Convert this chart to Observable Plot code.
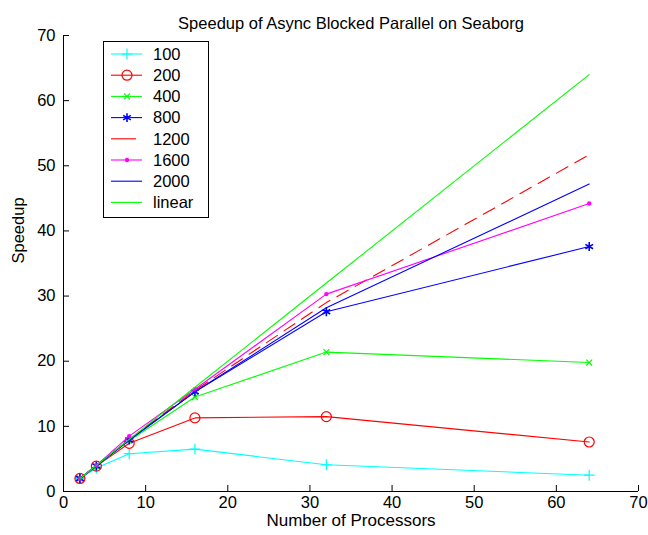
<!DOCTYPE html>
<html><head><meta charset="utf-8">
<script src="https://cdn.jsdelivr.net/npm/d3@7"></script>
<script src="https://cdn.jsdelivr.net/npm/@observablehq/plot@0.6"></script>
<style>
body{margin:0;background:#fff;}
#wrap{position:relative;width:648px;height:535px;font-family:Arial,"Liberation Sans",sans-serif;}
#wrap svg.legend{position:absolute;left:0;top:0;pointer-events:none;}
</style></head><body><div id="wrap"></div>
<script>
// ---- data ----
const processors = [2, 4, 8, 16, 32, 64];
const seriesNames = ["100", "200", "400", "800", "1200", "1600", "2000", "linear"];
const s100    = [2.0, 3.6, 5.8, 6.5, 4.1, 2.5];
const s200    = [2.0, 3.9, 7.4, 11.3, 11.5, 7.6];
const s400    = [2.0, 3.9, 7.8, 14.5, 21.4, 19.8];
const s800    = [2.0, 3.9, 7.9, 15.3, 27.6, 37.6];
const s1200   = [2.0, 4.0, 8.0, 15.5, 29.0, 51.7];
const s1600   = [2.0, 4.0, 8.5, 15.7, 30.3, 44.2];
const s2000   = [2.0, 4.0, 7.9, 15.3, 28.2, 47.2];
const sLinear = [2, 4, 8, 16, 32, 64];
const seriesValues = [s100, s200, s400, s800, s1200, s1600, s2000, sLinear];
const xTicks = [0, 10, 20, 30, 40, 50, 60, 70];
const yTicks = [0, 10, 20, 30, 40, 50, 60, 70];
const titleText = "Speedup of Async Blocked Parallel on Seaborg";
const xLabel = "Number of Processors";
const yLabel = "Speedup";

// ---- styles ----
const colors  = ["#00ffff", "#ff0000", "#00ff00", "#0000ff", "#ff0000", "#ff00ff", "#0000ff", "#00ff00"];
const symbols = ["plus", "circle", "times", "asterisk", null, "dot", null, null];
const dashes  = [null, null, null, null, "13,8", null, null, null];
const FONT = 16.5;

const rows = seriesNames.flatMap((name, i) =>
  processors.map((p, j) => ({series: name, idx: i, x: p, y: seriesValues[i][j]})));

const marks = [];
marks.push(Plot.ruleY([0], {stroke: "black"}));
marks.push(Plot.ruleX([0], {stroke: "black"}));
seriesNames.forEach((name, i) => {
  const d = rows.filter(r => r.idx === i);
  marks.push(Plot.line(d, {x: "x", y: "y", stroke: colors[i], strokeWidth: 1.1,
    strokeDasharray: dashes[i] ?? undefined}));
  const sym = symbols[i];
  if (sym === "plus") marks.push(Plot.dot(d, {x: "x", y: "y", symbol: "plus", r: 3.6, stroke: colors[i], strokeWidth: 1.2}));
  if (sym === "circle") marks.push(Plot.dot(d, {x: "x", y: "y", symbol: "circle", r: 5, stroke: colors[i], fill: "none", strokeWidth: 1.2}));
  if (sym === "times") marks.push(Plot.dot(d, {x: "x", y: "y", symbol: "times", r: 2.8, stroke: colors[i], strokeWidth: 1.2}));
  if (sym === "asterisk") marks.push(Plot.dot(d, {x: "x", y: "y", symbol: "asterisk", r: 4.2, stroke: colors[i], strokeWidth: 1.6}));
  if (sym === "dot") marks.push(Plot.dot(d, {x: "x", y: "y", r: 2.2, fill: colors[i], stroke: "none"}));
});
marks.push(Plot.axisX({ticks: xTicks, tickSize: -6, tickPadding: 11, label: null, fontSize: FONT}));
marks.push(Plot.axisY({ticks: yTicks, tickSize: -6, tickPadding: 14, label: null, fontSize: FONT}));
marks.push(Plot.text([titleText], {text: d => d, frameAnchor: "top", dy: -18, fontSize: 16.5}));
marks.push(Plot.text([xLabel], {text: d => d, frameAnchor: "bottom", dy: 34, fontSize: 17}));
marks.push(Plot.text([yLabel], {text: d => d, frameAnchor: "left", dx: -45, rotate: -90, fontSize: FONT}));

const chart = Plot.plot({
  width: 648, height: 535,
  marginLeft: 63, marginRight: 10, marginTop: 35, marginBottom: 44,
  x: {domain: [0, 70]},
  y: {domain: [0, 70]},
  style: {fontFamily: 'Arial, "Liberation Sans", sans-serif', fontSize: FONT + "px", background: "white", color: "black", overflow: "visible"},
  marks
});
const wrap = document.getElementById("wrap");
wrap.appendChild(chart);

// ---- legend overlay ----
const lg = d3.select(wrap).append("svg").attr("class", "legend")
  .attr("width", 648).attr("height", 535);
lg.append("rect").attr("x", 103.5).attr("y", 41.5).attr("width", 105).attr("height", 176)
  .attr("fill", "white").attr("stroke", "black");
const d3sym = {plus: d3.symbolPlus, circle: d3.symbolCircle, times: d3.symbolTimes, asterisk: d3.symbolAsterisk};
const rSym = {plus: 3.6, circle: 5, times: 2.8, asterisk: 4.2};
seriesNames.forEach((name, i) => {
  const cy = 54 + i * 21.2;
  const x2 = dashes[i] ? 136 : 142;
  lg.append("line").attr("x1", 111).attr("x2", x2).attr("y1", cy).attr("y2", cy)
    .attr("stroke", colors[i]).attr("stroke-width", 1.1);
  const sym = symbols[i];
  if (sym === "dot") {
    lg.append("circle").attr("cx", 127).attr("cy", cy).attr("r", 2.2).attr("fill", colors[i]);
  } else if (sym) {
    const r = rSym[sym];
    lg.append("path").attr("transform", `translate(127,${cy})`)
      .attr("d", d3.symbol(d3sym[sym], Math.PI * r * r)())
      .attr("fill", "none").attr("stroke", colors[i])
      .attr("stroke-width", sym === "asterisk" ? 1.6 : 1.2);
  }
  lg.append("text").attr("x", 153).attr("y", cy).attr("dy", "0.35em")
    .attr("font-size", FONT).attr("fill", "black").text(name);
});
</script>
</body></html>
